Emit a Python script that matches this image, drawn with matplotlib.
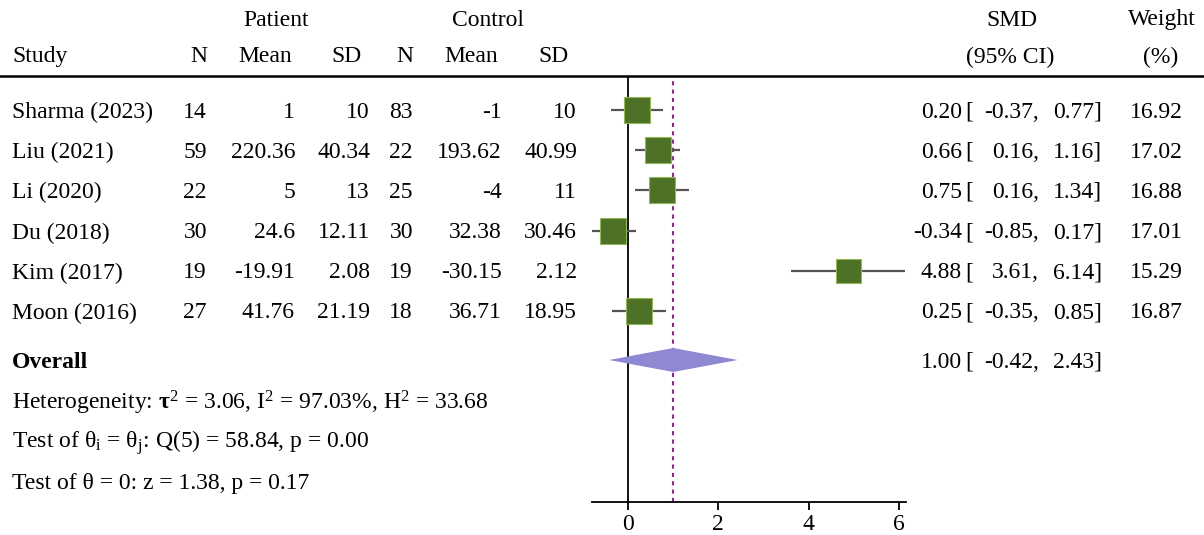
import matplotlib
matplotlib.use("Agg")
import matplotlib.pyplot as plt
from matplotlib.lines import Line2D
from matplotlib.patches import Polygon

plt.rcParams['font.family'] = ['Liberation Serif', 'DejaVu Serif']
plt.rcParams['mathtext.fontset'] = 'custom'
plt.rcParams['mathtext.rm'] = 'Liberation Serif'
plt.rcParams['mathtext.it'] = 'Liberation Serif:italic'
plt.rcParams['mathtext.bf'] = 'Liberation Serif:bold'

# ---------------- data ----------------
studies = ["Sharma (2023)", "Liu (2021)", "Li (2020)", "Du (2018)", "Kim (2017)", "Moon (2016)"]
p_n = [14, 59, 22, 30, 19, 27]
p_mean = [1, 220.36, 5, 24.6, -19.91, 41.76]
p_sd = [10, 40.34, 13, 12.11, 2.08, 21.19]
c_n = [83, 22, 25, 30, 19, 18]
c_mean = [-1, 193.62, -4, 32.38, -30.15, 36.71]
c_sd = [10, 40.99, 11, 30.46, 2.12, 18.95]
smd = [0.20, 0.66, 0.75, -0.34, 4.88, 0.25]
ci_lo = [-0.37, 0.16, 0.16, -0.85, 3.61, -0.35]
ci_hi = [0.77, 1.16, 1.34, 0.17, 6.14, 0.85]
weight = [16.92, 17.02, 16.88, 17.01, 15.29, 16.87]
overall = (1.00, -0.42, 2.43)
x_ticks = [0, 2, 4, 6]
stats_lines = [
    r"Heterogeneity: $\mathbf{τ}^\mathrm{2}$ = 3.06, I$^\mathrm{2}$ = 97.03%, H$^\mathrm{2}$ = 33.68",
    r"Test of θ$_\mathrm{i}$ = θ$_\mathrm{j}$: Q(5) = 58.84, p = 0.00",
    r"Test of θ = 0: z = 1.38, p = 0.17",
]

# ---------------- layout (pixels) ----------------
W, H = 1204, 535
fig = plt.figure(figsize=(W / 100, H / 100), dpi=100)
FS = 17

def fx(x):
    return x / W

def fy(y):
    return 1 - y / H

def txt(x, y, s, ha='left', **kw):
    fig.text(fx(x), fy(y + 2), s, ha=ha, va='center', fontsize=FS, **kw)

row_y = [110, 150, 190, 231, 271, 311]
overall_y = 360
stats_y = [401, 441, 481]
top_line_y = 76
axis_y = 502

# forest axes: x=0 at px 628, x=6 at px 899
px0, px6 = 628, 899
upx = (px6 - px0) / 6.0
ax_l, ax_r = 592, 906
xlim = ((ax_l - px0) / upx, (ax_r - px0) / upx)
ax = fig.add_axes([fx(ax_l), fy(axis_y), (ax_r - ax_l) / W, (axis_y - top_line_y) / H])
ax.set_xlim(*xlim)
ax.set_ylim(axis_y, top_line_y)
for s in ['top', 'right', 'left']:
    ax.spines[s].set_visible(False)
ax.spines['bottom'].set_linewidth(1.3)
ax.set_yticks([])
ax.set_xticks(x_ticks)
ax.tick_params(axis='x', length=6, width=1.3, labelsize=FS, pad=3)
ax.patch.set_alpha(0)

# reference lines
ax.axvline(0, color='black', lw=1.3, zorder=1)
ax.axvline(overall[0], color='#8B2A8B', lw=1.5, ls=(0, (2, 2)), zorder=1)

# CIs and squares
for i in range(len(studies)):
    ax.plot([ci_lo[i], ci_hi[i]], [row_y[i], row_y[i]], color='#555555', lw=1.6, zorder=2,
            solid_capstyle='butt')
ax.scatter(smd, row_y, s=[w * 350 / 17 for w in weight], marker='s',
           facecolor='#4F7127', edgecolor='#93B85A', linewidth=0.8, zorder=3)

# overall diamond
est, lo, hi = overall
dh = 12
ax.add_patch(Polygon([[lo, overall_y], [est, overall_y - dh], [hi, overall_y], [est, overall_y + dh]],
                     closed=True, facecolor='#8F89D3', edgecolor='none', zorder=3))

# header line
fig.add_artist(Line2D([0, 1], [fy(top_line_y), fy(top_line_y)], color='black', lw=1.8,
                      transform=fig.transFigure))

# headers
txt(276, 18, "Patient", ha='center')
txt(488, 18, "Control", ha='center')
txt(1012, 18, "SMD", ha='center')
txt(1162, 18, "Weight", ha='center')
txt(12, 55, "Study")
txt(207, 55, "N", ha='right')
txt(265, 55, "Mean", ha='center')
txt(347, 55, "SD", ha='center')
txt(413, 55, "N", ha='right')
txt(471, 55, "Mean", ha='center')
txt(553, 55, "SD", ha='center')
txt(1010, 55, "(95% CI)", ha='center')
txt(1161, 55, "(%)", ha='center')

# rows
for i in range(len(studies)):
    y = row_y[i]
    txt(12, y, studies[i])
    txt(207, y, f"{p_n[i]}", ha='right')
    txt(295, y, f"{p_mean[i]:g}", ha='right')
    txt(370, y, f"{p_sd[i]:g}", ha='right')
    txt(413, y, f"{c_n[i]}", ha='right')
    txt(502, y, f"{c_mean[i]:g}", ha='right')
    txt(577, y, f"{c_sd[i]:g}", ha='right')
    txt(962, y, f"{smd[i]:.2f}", ha='right')
    txt(965, y, "[")
    txt(1039, y, f"{ci_lo[i]:.2f},", ha='right')
    txt(1102, y, f"{ci_hi[i]:.2f}]", ha='right')
    txt(1183, y, f"{weight[i]:.2f}", ha='right')

txt(12, overall_y, "Overall", fontweight='bold')
txt(962, overall_y, f"{overall[0]:.2f}", ha='right')
txt(965, overall_y, "[")
txt(1039, overall_y, f"{overall[1]:.2f},", ha='right')
txt(1102, overall_y, f"{overall[2]:.2f}]", ha='right')

for s, y in zip(stats_lines, stats_y):
    txt(12, y, s)

fig.savefig("out.png", dpi=100)
